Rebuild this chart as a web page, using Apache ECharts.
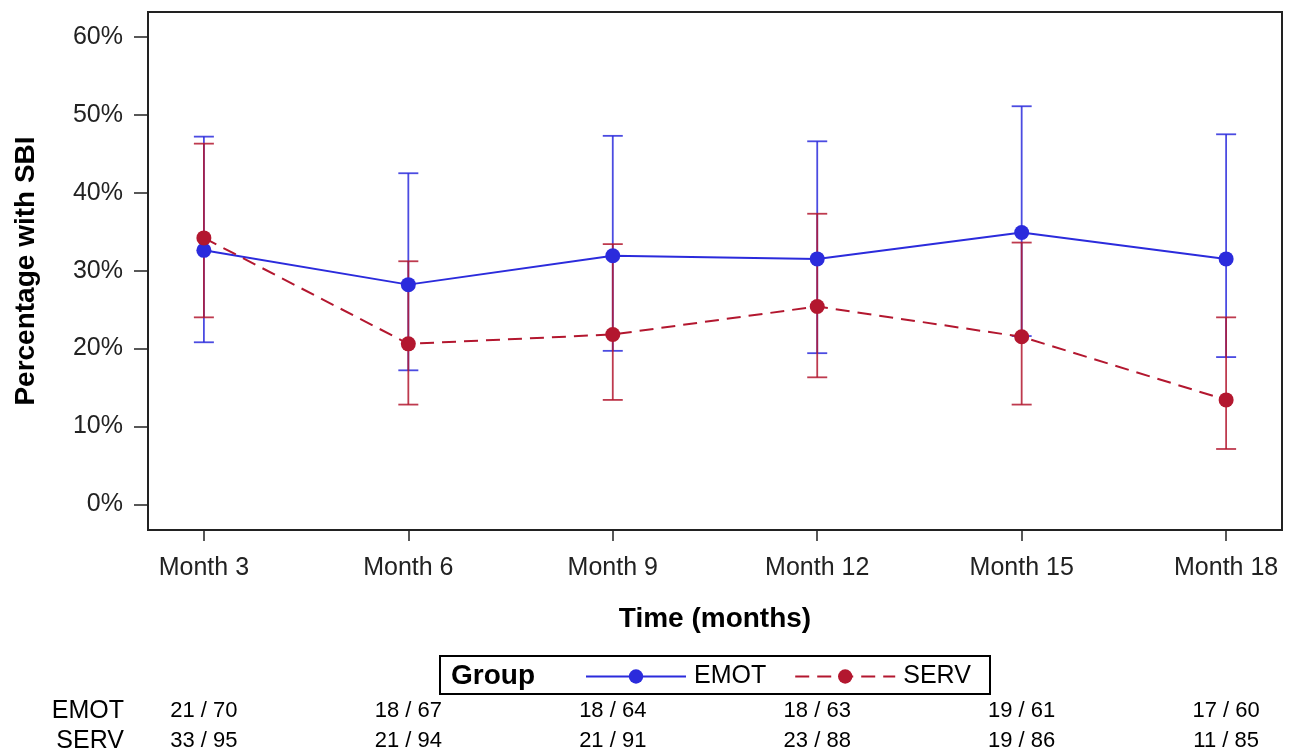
<!DOCTYPE html>
<html>
<head>
<meta charset="utf-8">
<script src="https://cdn.jsdelivr.net/npm/echarts@6/dist/echarts.min.js"></script>
<style>
  html, body { margin: 0; padding: 0; background: #fff; }
  #chart { width: 1289px; height: 753px; }
</style>
</head>
<body>
<div id="chart"></div>
<script>
// Visit months and their axis labels
const months = [3, 6, 9, 12, 15, 18];
const monthLabels = ['Month 3', 'Month 6', 'Month 9', 'Month 12', 'Month 15', 'Month 18'];
const yTicks = [0, 10, 20, 30, 40, 50, 60];

// Percentage with SBI, with lower / upper confidence limits
const emotPct = [32.6, 28.2, 31.9, 31.5, 34.9, 31.5];
const emotLo  = [20.8, 17.2, 19.7, 19.4, 21.6, 18.9];
const emotHi  = [47.2, 42.5, 47.3, 46.6, 51.1, 47.5];
const servPct = [34.2, 20.6, 21.8, 25.4, 21.5, 13.4];
const servLo  = [24.0, 12.8, 13.4, 16.3, 12.8, 7.1];
const servHi  = [46.3, 31.2, 33.4, 37.3, 33.6, 24.0];

// Counts shown under the axis (events / subjects)
const emotCounts = ['21 / 70', '18 / 67', '18 / 64', '18 / 63', '19 / 61', '17 / 60'];
const servCounts = ['33 / 95', '21 / 94', '21 / 91', '23 / 88', '19 / 86', '11 / 85'];

const BLUE = '#2b2bdc';
const RED = '#b3172f';
const FONT = '"Liberation Sans", Arial, sans-serif';

function pairs(xs, ys) { return xs.map((x, i) => [x, ys[i]]); }
function bars(xs, lo, hi) { return xs.map((x, i) => [x, lo[i], hi[i]]); }

function errorBar(color) {
  return function (params, api) {
    const x = api.value(0);
    const lo = api.coord([x, api.value(1)]);
    const hi = api.coord([x, api.value(2)]);
    const half = 10;
    const style = { stroke: color, lineWidth: 1.8, opacity: 0.85 };
    return {
      type: 'group',
      children: [
        { type: 'line', shape: { x1: lo[0], y1: lo[1], x2: hi[0], y2: hi[1] }, style },
        { type: 'line', shape: { x1: hi[0] - half, y1: hi[1], x2: hi[0] + half, y2: hi[1] }, style },
        { type: 'line', shape: { x1: lo[0] - half, y1: lo[1], x2: lo[0] + half, y2: lo[1] }, style }
      ]
    };
  };
}

const chart = echarts.init(document.getElementById('chart'), null, { renderer: 'canvas' });

const option = {
  animation: false,
  backgroundColor: '#fff',
  textStyle: { fontFamily: FONT },
  grid: {
    left: 148, right: 7, top: 12, bottom: 223,
    show: true, borderColor: '#222', borderWidth: 2, backgroundColor: 'transparent'
  },
  xAxis: {
    type: 'value',
    min: 2.18, max: 18.82,
    name: 'Time (months)',
    nameLocation: 'middle',
    nameGap: 75,
    nameTextStyle: { fontSize: 28, fontWeight: 'bold', color: '#000', fontFamily: FONT },
    axisLine: { show: false, onZero: false },
    splitLine: { show: false },
    axisTick: { show: true, length: 11, lineStyle: { color: '#222', width: 1.5 }, customValues: months },
    axisLabel: {
      fontSize: 25, color: '#222', margin: 26, fontFamily: FONT,
      customValues: months,
      formatter: v => monthLabels[months.indexOf(v)] || ''
    }
  },
  yAxis: {
    type: 'value',
    min: -3.3, max: 63.2,
    name: 'Percentage with SBI',
    nameLocation: 'middle',
    nameGap: 108,
    nameRotate: 90,
    nameTextStyle: { fontSize: 28, fontWeight: 'bold', color: '#000', fontFamily: FONT },
    axisLine: { show: false, onZero: false },
    splitLine: { show: false },
    axisTick: { show: true, length: 14, lineStyle: { color: '#222', width: 1.5 }, customValues: yTicks },
    axisLabel: {
      fontSize: 25, color: '#222', margin: 25, fontFamily: FONT,
      customValues: yTicks,
      formatter: v => v + '%'
    }
  },
  legend: {
    data: ['EMOT', 'SERV'],
    left: 580, top: 659,
    itemWidth: 100, itemHeight: 18, itemGap: 28,
    textStyle: { fontSize: 25, color: '#000', fontFamily: FONT, padding: [0, 0, 0, 3] },
    selectedMode: false
  },
  series: [
    {
      type: 'custom', name: 'EMOT CI', renderItem: errorBar(BLUE),
      data: bars(months, emotLo, emotHi), z: 1, silent: true
    },
    {
      type: 'custom', name: 'SERV CI', renderItem: errorBar(RED),
      data: bars(months, servLo, servHi), z: 1, silent: true
    },
    {
      type: 'line', name: 'EMOT', data: pairs(months, emotPct), z: 3,
      symbol: 'circle', symbolSize: 15,
      itemStyle: { color: BLUE },
      lineStyle: { color: BLUE, width: 2 }
    },
    {
      type: 'line', name: 'SERV', data: pairs(months, servPct), z: 4,
      symbol: 'circle', symbolSize: 15,
      itemStyle: { color: RED },
      lineStyle: { color: RED, width: 2, type: [14, 8] }
    }
  ]
};

chart.setOption(option);

// Legend frame and title, plus the counts table aligned to the month ticks
const graphics = [
  { type: 'rect', shape: { x: 440, y: 656, width: 550, height: 38 },
    style: { fill: 'transparent', stroke: '#000', lineWidth: 2 } },
  { type: 'text', x: 451, y: 676,
    style: { text: 'Group', font: 'bold 28px ' + FONT, fill: '#000', textVerticalAlign: 'middle' } },
  { type: 'text', x: 124, y: 711,
    style: { text: 'EMOT', font: '25px ' + FONT, fill: '#000', textAlign: 'right', textVerticalAlign: 'middle' } },
  { type: 'text', x: 124, y: 741,
    style: { text: 'SERV', font: '25px ' + FONT, fill: '#000', textAlign: 'right', textVerticalAlign: 'middle' } }
];
months.forEach((m, i) => {
  const px = chart.convertToPixel({ xAxisIndex: 0 }, m);
  graphics.push({ type: 'text', x: px, y: 711,
    style: { text: emotCounts[i], font: '22px ' + FONT, fill: '#000', textAlign: 'center', textVerticalAlign: 'middle' } });
  graphics.push({ type: 'text', x: px, y: 741,
    style: { text: servCounts[i], font: '22px ' + FONT, fill: '#000', textAlign: 'center', textVerticalAlign: 'middle' } });
});
chart.setOption({ graphic: graphics });
</script>
</body>
</html>
